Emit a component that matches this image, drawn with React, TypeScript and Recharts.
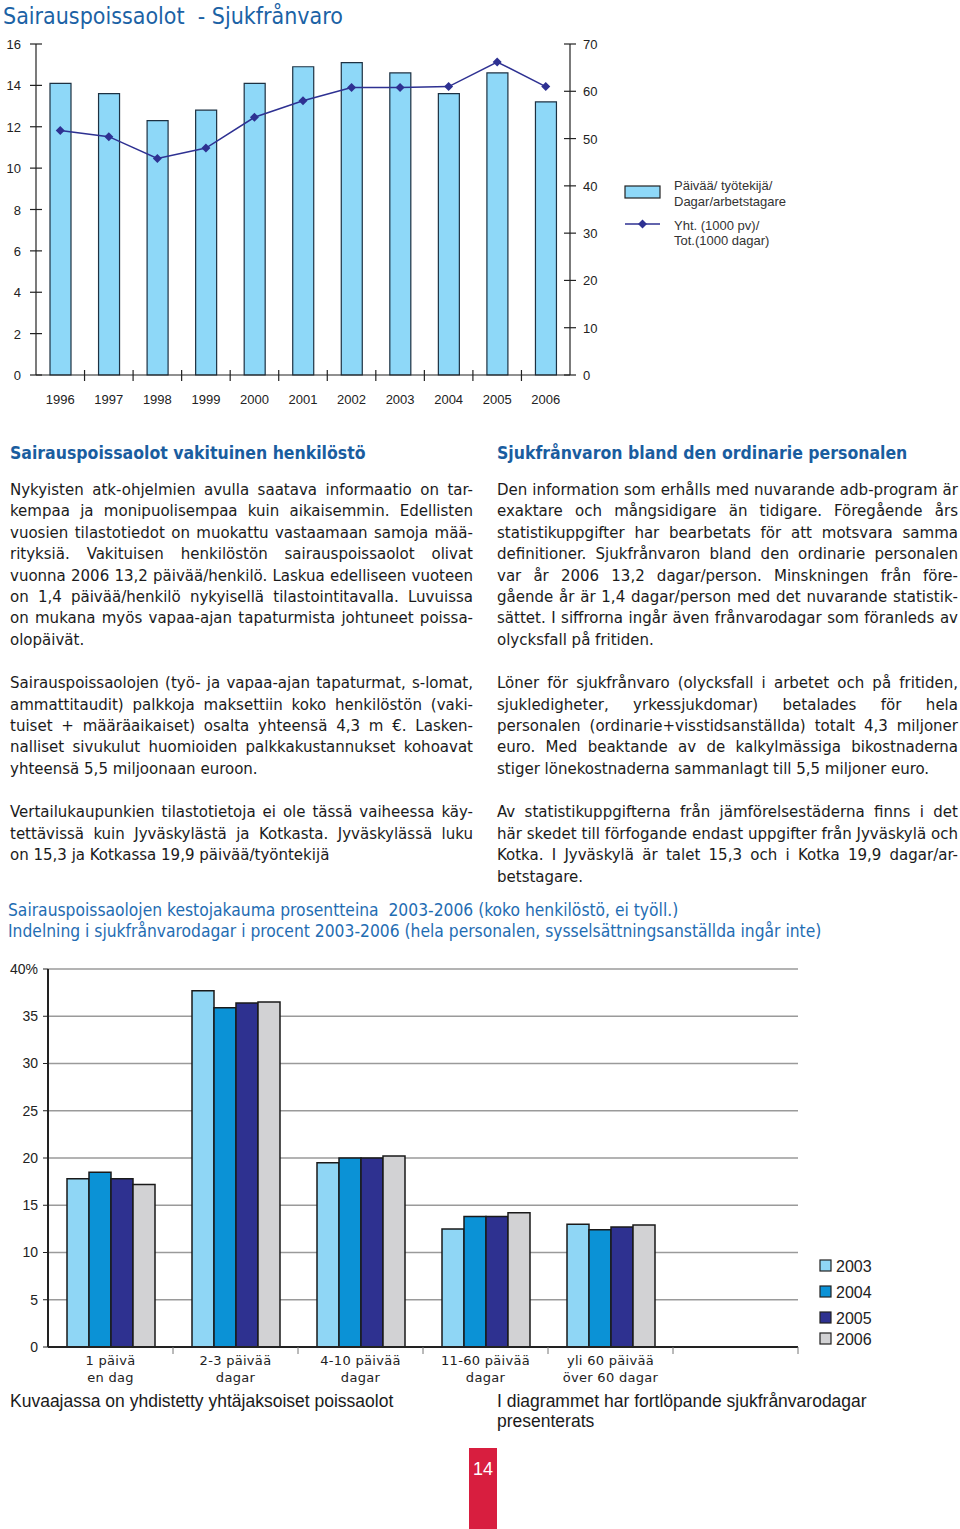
import React, { useLayoutEffect, useRef } from 'react';
import { ComposedChart, BarChart, Bar, Line, XAxis, YAxis, CartesianGrid, Legend } from 'recharts';

// --- top chart: sick leave per employee + total days ---
const years = ['1996', '1997', '1998', '1999', '2000', '2001', '2002', '2003', '2004', '2005', '2006'];
const daysPerEmployee = [14.1, 13.6, 12.3, 12.8, 14.1, 14.9, 15.1, 14.6, 13.6, 14.6, 13.2];
const totalThousandDays = [51.7, 50.4, 45.8, 48.0, 54.5, 58.0, 60.8, 60.8, 61.0, 66.2, 61.0];
const leftTicks = [0, 2, 4, 6, 8, 10, 12, 14, 16];
const rightTicks = [0, 10, 20, 30, 40, 50, 60, 70];

// --- bottom chart: duration distribution (%) ---
const durationTop = ['1 päivä', '2-3 päivää', '4-10 päivää', '11-60 päivää', 'yli 60 päivää', ''];
const durationBottom = ['en dag', 'dagar', 'dagar', 'dagar', 'över 60 dagar', ''];
const share2003 = [17.8, 37.7, 19.5, 12.5, 13.0, null];
const share2004 = [18.5, 35.9, 20.0, 13.8, 12.4, null];
const share2005 = [17.8, 36.4, 20.0, 13.8, 12.7, null];
const share2006 = [17.2, 36.5, 20.2, 14.2, 12.9, null];
const shareTicks = [0, 5, 10, 15, 20, 25, 30, 35, 40];
const shareYears = ['2003', '2004', '2005', '2006'];
const shareColors = ['#8fd6f5', '#0b92d6', '#2e3190', '#d2d2d4'];

const topData = years.map((y, i) => ({ year: y, days: daysPerEmployee[i], total: totalThousandDays[i] }));
const durData = durationTop.map((d, i) => ({
  name: d,
  y2003: share2003[i],
  y2004: share2004[i],
  y2005: share2005[i],
  y2006: share2006[i],
}));

const ARIAL = "'Liberation Sans', Arial, sans-serif";
const VERD = "'DejaVu Sans Condensed', 'DejaVu Sans', sans-serif";

const leftPara = [
  [
    'Nykyisten atk-ohjelmien avulla saatava informaatio on tar-',
    'kempaa ja monipuolisempaa kuin aikaisemmin. Edellisten',
    'vuosien tilastotiedot on muokattu vastaamaan samoja mää-',
    'rityksiä. Vakituisen henkilöstön sairauspoissaolot olivat',
    'vuonna 2006 13,2 päivää/henkilö. Laskua edelliseen vuoteen',
    'on 1,4 päivää/henkilö nykyisellä tilastointitavalla. Luvuissa',
    'on mukana myös vapaa-ajan tapaturmista johtuneet poissa-',
    'olopäivät.',
  ],
  [
    'Sairauspoissaolojen (työ- ja vapaa-ajan tapaturmat, s-lomat,',
    'ammattitaudit) palkkoja maksettiin koko henkilöstön (vaki-',
    'tuiset + määräaikaiset) osalta yhteensä 4,3 m €. Lasken-',
    'nalliset sivukulut huomioiden palkkakustannukset kohoavat',
    'yhteensä 5,5 miljoonaan euroon.',
  ],
  [
    'Vertailukaupunkien tilastotietoja ei ole tässä vaiheessa käy-',
    'tettävissä kuin Jyväskylästä ja Kotkasta. Jyväskylässä luku',
    'on 15,3 ja Kotkassa 19,9 päivää/työntekijä',
  ],
];

const rightPara = [
  [
    'Den information som erhålls med nuvarande adb-program är',
    'exaktare och mångsidigare än tidigare. Föregående års',
    'statistikuppgifter har bearbetats för att motsvara samma',
    'definitioner. Sjukfrånvaron bland den ordinarie personalen',
    'var år 2006 13,2 dagar/person. Minskningen från före-',
    'gående år är 1,4 dagar/person med det nuvarande statistik-',
    'sättet. I siffrorna ingår även frånvarodagar som föranleds av',
    'olycksfall på fritiden.',
  ],
  [
    'Löner för sjukfrånvaro (olycksfall i arbetet och på fritiden,',
    'sjukledigheter, yrkessjukdomar) betalades för hela',
    'personalen (ordinarie+visstidsanställda) totalt 4,3 miljoner',
    'euro. Med beaktande av de kalkylmässiga bikostnaderna',
    'stiger lönekostnaderna sammanlagt till 5,5 miljoner euro.',
  ],
  [
    'Av statistikuppgifterna från jämförelsestäderna finns i det',
    'här skedet till förfogande endast uppgifter från Jyväskylä och',
    'Kotka. I Jyväskylä är talet 15,3 och i Kotka 19,9 dagar/ar-',
    'betstagare.',
  ],
];

// one justified line, squeezed with letter-spacing if it is too long
function TextLine({ text, width, justify }: { text: string; width: number; justify: boolean }) {
  const ref = useRef<HTMLDivElement>(null);
  useLayoutEffect(() => {
    const el = ref.current;
    if (!el) return;
    el.style.letterSpacing = '0px';
    const w = el.scrollWidth;
    if (w > width) el.style.letterSpacing = `${(width - w - 1) / text.length}px`;
  }, [text, width]);
  return (
    <div
      ref={ref}
      style={{
        width,
        whiteSpace: 'nowrap',
        textAlign: justify ? 'justify' : 'left',
        textAlignLast: justify ? 'justify' : 'left',
      }}
    >
      {text}
    </div>
  );
}

function Column({ left, width, heading, paras }: { left: number; width: number; heading: string; paras: string[][] }) {
  return (
    <div style={{ position: 'absolute', left, top: 443, width, fontFamily: VERD, fontStretch: 'condensed' }}>
      <div style={{ fontSize: 17.5, fontWeight: 'bold', color: '#1a5d9f', lineHeight: '20px', height: 36, whiteSpace: 'nowrap' }}>{heading}</div>
      {paras.map((p, pi) => (
        <div key={pi} style={{ fontSize: 16.7, lineHeight: '21.4px', color: '#1b1b1b', marginTop: pi === 0 ? 0 : 22 }}>
          {p.map((l, li) => (
            <TextLine key={li} text={l} width={width} justify={li < p.length - 1} />
          ))}
        </div>
      ))}
    </div>
  );
}

const TOP_BAND = 534 / years.length;

function YearTick(props: any) {
  const { x, y, payload, index } = props;
  return (
    <g>
      {index > 0 && <line x1={x - TOP_BAND / 2} x2={x - TOP_BAND / 2} y1={y - 5} y2={y + 6} stroke="#222" strokeWidth={1.2} />}
      <text x={x} y={y + 29} textAnchor="middle" fontSize={13} fontFamily={ARIAL} fill="#222">
        {payload.value}
      </text>
    </g>
  );
}

function LeftTick(props: any) {
  const { x, y, payload } = props;
  return (
    <g>
      <line x1={x - 6} x2={x + 6} y1={y} y2={y} stroke="#222" strokeWidth={1.2} />
      <text x={x - 15} y={y + 5} textAnchor="end" fontSize={13} fontFamily={ARIAL} fill="#222">
        {payload.value}
      </text>
    </g>
  );
}

function RightTick(props: any) {
  const { x, y, payload } = props;
  return (
    <g>
      <line x1={x - 6} x2={x + 6} y1={y} y2={y} stroke="#222" strokeWidth={1.2} />
      <text x={x + 13} y={y + 5} textAnchor="start" fontSize={13} fontFamily={ARIAL} fill="#222">
        {payload.value}
      </text>
    </g>
  );
}

function Diamond(props: any) {
  const { cx, cy } = props;
  const r = 4.5;
  return <path d={`M${cx},${cy - r}L${cx + r},${cy}L${cx},${cy + r}L${cx - r},${cy}Z`} fill="#2e3192" />;
}

function TopLegend() {
  return (
    <svg width={190} height={80} style={{ overflow: 'visible', display: 'block' }}>
      <rect x={1} y={10} width={35} height={12} fill="#8ed8f8" stroke="#222" strokeWidth={1.2} />
      <text x={50} y={14} fontSize={13} fontFamily={ARIAL} fill="#333">Päivää/ työtekijä/</text>
      <text x={50} y={30} fontSize={13} fontFamily={ARIAL} fill="#333">Dagar/arbetstagare</text>
      <line x1={1} x2={36} y1={48} y2={48} stroke="#2e3192" strokeWidth={1.5} />
      <path d="M18.5,43.5L23,48L18.5,52.5L14,48Z" fill="#2e3192" />
      <text x={50} y={54} fontSize={13} fontFamily={ARIAL} fill="#333">Yht. (1000 pv)/</text>
      <text x={50} y={69} fontSize={13} fontFamily={ARIAL} fill="#333">Tot.(1000 dagar)</text>
    </svg>
  );
}

const DUR_BAND = 750 / durationTop.length;

function DurTick(props: any) {
  const { x, y, payload, index } = props;
  return (
    <g>
      {index > 0 && <line x1={x - DUR_BAND / 2} x2={x - DUR_BAND / 2} y1={y} y2={y + 7} stroke="#777" strokeWidth={1} />}
      {index === durationTop.length - 1 && (
        <line x1={x + DUR_BAND / 2} x2={x + DUR_BAND / 2} y1={y} y2={y + 7} stroke="#777" strokeWidth={1} />
      )}
      <text x={x} y={y + 18} textAnchor="middle" fontSize={13} letterSpacing={0.3} fontFamily="'DejaVu Sans', sans-serif" fill="#222">
        {payload.value}
      </text>
      <text x={x} y={y + 35} textAnchor="middle" fontSize={13} letterSpacing={0.3} fontFamily="'DejaVu Sans', sans-serif" fill="#222">
        {durationBottom[index]}
      </text>
    </g>
  );
}

function DurLegend() {
  const rows = [0, 26, 52, 73];
  return (
    <svg width={80} height={90} style={{ overflow: 'visible', display: 'block' }}>
      {shareYears.map((y, i) => (
        <g key={y}>
          <rect x={1} y={rows[i] + 1} width={11} height={11} fill={shareColors[i]} stroke="#222" strokeWidth={1.2} />
          <text x={17} y={rows[i] + 13} fontSize={16} fontFamily={ARIAL} fill="#222">{y}</text>
        </g>
      ))}
    </svg>
  );
}

export default function App() {
  return (
    <div style={{ position: 'absolute', left: 0, top: 0, width: 960, height: 1529, background: '#fff', overflow: 'hidden' }}>
      <div style={{ position: 'absolute', left: 3, top: 3, fontFamily: VERD, fontStretch: 'condensed', fontSize: 23, color: '#1b62a5', whiteSpace: 'pre' }}>
        {'Sairauspoissaolot  - Sjukfrånvaro'}
      </div>

      <div style={{ position: 'absolute', left: 0, top: 0 }}>
        <ComposedChart width={820} height={420} data={topData} margin={{ top: 44, right: 200, bottom: 0, left: 0 }}>
          <XAxis dataKey="year" height={45} interval={0} tickLine={false} tickSize={0} tickMargin={0} axisLine={{ stroke: '#222', strokeWidth: 1.2 }} tick={<YearTick />} />
          <YAxis yAxisId="l" width={36} domain={[0, 16]} ticks={leftTicks} interval={0} tickLine={false} tickSize={0} tickMargin={0} axisLine={{ stroke: '#222', strokeWidth: 1.2 }} tick={<LeftTick />} />
          <YAxis yAxisId="r" orientation="right" width={50} domain={[0, 70]} ticks={rightTicks} interval={0} tickLine={false} tickSize={0} tickMargin={0} axisLine={{ stroke: '#222', strokeWidth: 1.2 }} tick={<RightTick />} />
          <Bar yAxisId="l" dataKey="days" barSize={21} fill="#8ed8f8" stroke="#1d3142" strokeWidth={1.2} isAnimationActive={false} />
          <Line yAxisId="r" dataKey="total" type="linear" stroke="#2e3192" strokeWidth={1.5} dot={<Diamond />} activeDot={false} isAnimationActive={false} />
          <Legend layout="horizontal" verticalAlign="middle" align="center" wrapperStyle={{ left: 624, top: 176, width: 190 }} content={() => <TopLegend />} />
        </ComposedChart>
      </div>

      <Column left={10} width={463} heading="Sairauspoissaolot vakituinen henkilöstö" paras={leftPara} />
      <Column left={497} width={461} heading="Sjukfrånvaron bland den ordinarie personalen" paras={rightPara} />

      <div style={{ position: 'absolute', left: 8, top: 900, fontFamily: VERD, fontStretch: 'condensed', fontSize: 17.3, lineHeight: '21px', color: '#1f6db3', whiteSpace: 'pre' }}>
        <div>{'Sairauspoissaolojen kestojakauma prosentteina  2003-2006 (koko henkilöstö, ei työll.)'}</div>
        <div>Indelning i sjukfrånvarodagar i procent 2003-2006 (hela personalen, sysselsättningsanställda ingår inte)</div>
      </div>

      <div style={{ position: 'absolute', left: 0, top: 950 }}>
        <BarChart width={960} height={447} data={durData} margin={{ top: 19, right: 162, bottom: 0, left: 0 }} barGap={0} barSize={22}>
          <CartesianGrid vertical={false} stroke="#9a9a9a" strokeWidth={1.5} />
          <XAxis dataKey="name" height={50} interval={0} tickLine={false} tickSize={0} tickMargin={0} axisLine={{ stroke: '#222', strokeWidth: 2 }} tick={<DurTick />} />
          <YAxis width={48} domain={[0, 40]} ticks={shareTicks} interval={0} tickSize={5} tickMargin={5} axisLine={{ stroke: '#222', strokeWidth: 2 }} tickLine={{ stroke: '#222' }} tick={{ fontSize: 14, fill: '#222', fontFamily: ARIAL }} tickFormatter={(v: number) => (v === 40 ? '40%' : String(v))} />
          <Bar dataKey="y2003" fill={shareColors[0]} stroke="#1a1a1a" strokeWidth={1.5} isAnimationActive={false} />
          <Bar dataKey="y2004" fill={shareColors[1]} stroke="#1a1a1a" strokeWidth={1.5} isAnimationActive={false} />
          <Bar dataKey="y2005" fill={shareColors[2]} stroke="#1a1a1a" strokeWidth={1.5} isAnimationActive={false} />
          <Bar dataKey="y2006" fill={shareColors[3]} stroke="#1a1a1a" strokeWidth={1.5} isAnimationActive={false} />
          <Legend layout="horizontal" verticalAlign="middle" align="center" wrapperStyle={{ left: 819, top: 309, width: 80 }} content={() => <DurLegend />} />
        </BarChart>
      </div>

      <div style={{ position: 'absolute', left: 10, top: 1391, fontFamily: ARIAL, fontSize: 17.5, color: '#1a1a1a', whiteSpace: 'nowrap' }}>
        Kuvaajassa on yhdistetty yhtäjaksoiset poissaolot
      </div>
      <div style={{ position: 'absolute', left: 497, top: 1391, fontFamily: ARIAL, fontSize: 17.5, lineHeight: '20px', color: '#1a1a1a' }}>
        <div>I diagrammet har fortlöpande sjukfrånvarodagar</div>
        <div>presenterats</div>
      </div>

      <div style={{ position: 'absolute', left: 469, top: 1448, width: 28, height: 81, background: '#d81e3f', color: '#fff', fontFamily: ARIAL, fontSize: 18, textAlign: 'center', paddingTop: 11, boxSizing: 'border-box' }}>
        14
      </div>
    </div>
  );
}
